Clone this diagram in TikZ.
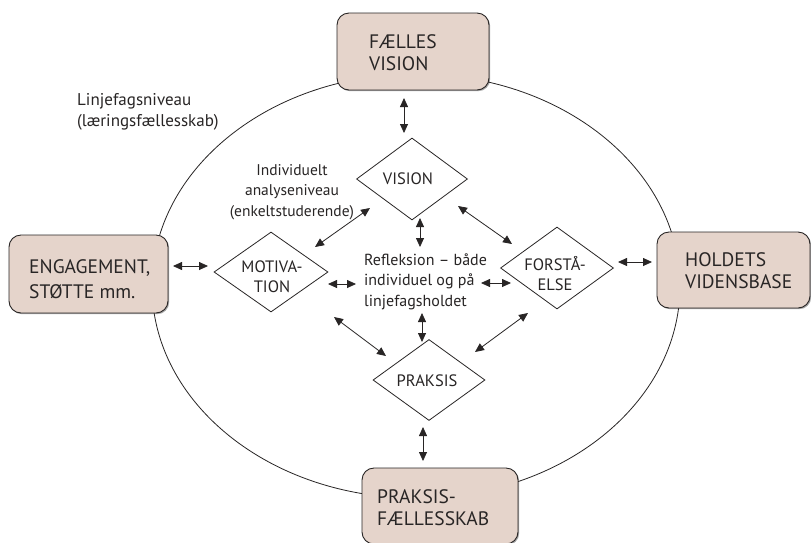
\documentclass[tikz,border=0pt]{standalone}
\usepackage{fontspec}
\setmainfont{PT Sans}
\usetikzlibrary{arrows.meta,shapes.geometric,shadows}
\definecolor{boxfill}{RGB}{229,212,203}
\definecolor{ink}{RGB}{40,37,37}
\begin{document}
\begin{tikzpicture}[x=1pt,y=-1pt,
  boxnode/.style={draw=ink, line width=0.9pt, fill=boxfill, rounded corners=12pt,
    inner sep=0pt, rectangle,
    drop shadow={shadow xshift=1.2pt, shadow yshift=-1.2pt, opacity=0.35, fill=black}},
  boxtext/.style={font=\fontsize{19.5}{22}\selectfont, align=left, inner sep=0pt, anchor=west, text=ink},
  diam/.style={draw=ink, line width=0.8pt, diamond, inner sep=0pt, fill=white},
  diamtext/.style={font=\fontsize{16.5}{20}\selectfont, align=center, inner sep=0pt, text=ink},
  smalltext/.style={font=\fontsize{15.5}{20.5}\selectfont, inner sep=0pt, text=ink},
  dbl/.style={{Triangle[length=9pt,width=8pt]}-{Triangle[length=9pt,width=8pt]}, line width=0.8pt, draw=ink}
]
\useasboundingbox (0,0) rectangle (811,542);
\fill[white] (0,0) rectangle (811,542);

% outer ring
\draw[ink, line width=0.8pt] (416,286) ellipse [x radius=264, y radius=212];

% boxes
\node[boxnode, minimum width=152pt, minimum height=77pt] (fv) at (413,51.5) {};
\node[boxnode, minimum width=159pt, minimum height=78pt] (eng) at (88.5,274) {};
\node[boxnode, minimum width=153pt, minimum height=76pt] (hv) at (733.5,270) {};
\node[boxnode, minimum width=156pt, minimum height=76pt] (pf) at (440,506) {};

\node[boxtext] (fvt) at (369,53) {FÆLLES\\VISION};
\node[boxtext, font=\fontsize{19.5}{25}\selectfont] (engt) at (29,279.5) {ENGAGEMENT,\\STØTTE mm.};
\node[boxtext] (hvt) at (685,271) {HOLDETS\\VIDENSBASE};
\node[boxtext] (pft) at (377,507.5) {PRAKSIS-\\FÆLLESSKAB};

% diamonds
\node[diam, minimum width=111pt, minimum height=82pt] (vis) at (412,179) {};
\node[diam, minimum width=114pt, minimum height=80pt] (mot) at (271,272) {};
\node[diam, minimum width=113pt, minimum height=82pt] (for) at (557,268) {};
\node[diam, minimum width=112pt, minimum height=81pt] (prk) at (429,380) {};

\node[diamtext] (vist) at (408,179) {VISION};
\node[diamtext] (mott) at (272,277) {MOTIVA-\\TION};
\node[diamtext] (fort) at (555,274) {FORSTÅ-\\ELSE};
\node[diamtext] (prkt) at (427,381) {PRAKSIS};

% free texts
\node[smalltext, font=\fontsize{17}{20.5}\selectfont, align=left, anchor=west] (lin) at (77,112) {Linjefagsniveau\\(læringsfællesskab)};
\node[smalltext, align=center] (ind) at (292,192) {Individuelt\\analyseniveau\\(enkeltstuderende)};
\node[smalltext, font=\fontsize{16}{20.5}\selectfont, align=left, anchor=west] (ref) at (364,281.5) {Refleksion – både\\individuel og på\\linjefagsholdet};

% arrow end points
\coordinate (a1s) at (404,98);  \coordinate (a1e) at (404,133);
\coordinate (a2s) at (315,247); \coordinate (a2e) at (370,208);
\coordinate (a3s) at (420,218); \coordinate (a3e) at (420,247);
\coordinate (a4s) at (458,206); \coordinate (a4e) at (512,244);
\coordinate (a5s) at (173,266); \coordinate (a5e) at (208,266);
\coordinate (a6s) at (328,284); \coordinate (a6e) at (356,284);
\coordinate (a7s) at (481,283); \coordinate (a7e) at (511,283);
\coordinate (a8s) at (618,262); \coordinate (a8e) at (652,262);
\coordinate (a9s) at (334,317); \coordinate (a9e) at (386,356);
\coordinate (a10s) at (422,313); \coordinate (a10e) at (422,342);
\coordinate (a11s) at (528,313); \coordinate (a11e) at (475,352);
\coordinate (a12s) at (423,427); \coordinate (a12e) at (423,461);

\draw[dbl] (a1s) -- (a1e);
\draw[dbl] (a2s) -- (a2e);
\draw[dbl] (a3s) -- (a3e);
\draw[dbl] (a4s) -- (a4e);
\draw[dbl] (a5s) -- (a5e);
\draw[dbl] (a6s) -- (a6e);
\draw[dbl] (a7s) -- (a7e);
\draw[dbl] (a8s) -- (a8e);
\draw[dbl] (a9s) -- (a9e);
\draw[dbl] (a10s) -- (a10e);
\draw[dbl] (a11s) -- (a11e);
\draw[dbl] (a12s) -- (a12e);
\end{tikzpicture}
\end{document}
